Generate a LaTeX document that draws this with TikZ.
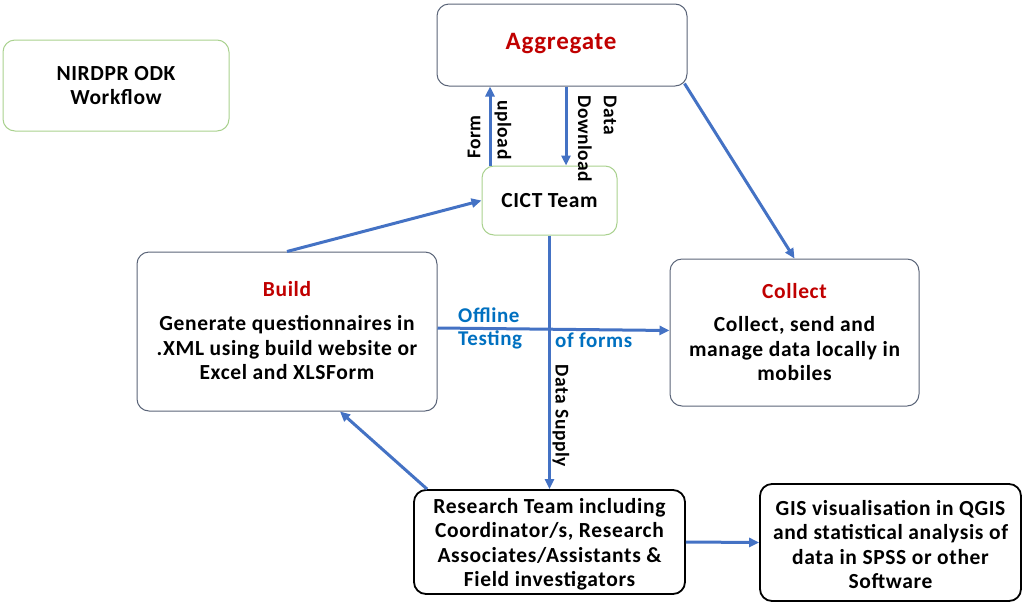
\documentclass[tikz,border=0pt]{standalone}
\usepackage{fontspec}
\setmainfont{Carlito}[LetterSpace=3]
\usetikzlibrary{arrows.meta}
\definecolor{flowblue}{HTML}{4472C4}
\definecolor{headred}{HTML}{C00000}
\definecolor{labelblue}{HTML}{0070C0}
\definecolor{softgreen}{HTML}{A9D18E}
\definecolor{slateedge}{HTML}{5A6478}
\begin{document}
\begin{tikzpicture}[x=1pt,y=-1pt,
  every node/.style={font=\bfseries\fontsize{21.5}{24.5}\selectfont, inner sep=0pt, align=center},
  box/.style={draw, rounded corners=12pt, line width=1pt},
  greenbox/.style={box, draw=softgreen},
  slatebox/.style={box, draw=slateedge},
  blackbox/.style={box, draw=black, line width=1.8pt},
  arr/.style={draw=flowblue, line width=3pt, -{Triangle[length=10pt,width=9pt]}},
  flowlabel/.style={font=\bfseries\fontsize{19.5}{23}\selectfont},
  bluelabel/.style={font=\bfseries\fontsize{21}{24}\selectfont, text=labelblue},
  head/.style={text=headred}]
\useasboundingbox (0,0) rectangle (1028,603);

% boxes
\node[greenbox, minimum width=226pt, minimum height=91pt] (title) at (116,85.5) {NIRDPR ODK\\Workflow};
\node[slatebox, minimum width=250pt, minimum height=82pt] (agg) at (562,45) {};
\node[head, font=\bfseries\fontsize{25}{30}\selectfont] (aggt) at (561,44) {Aggregate};
\node[greenbox, minimum width=135pt, minimum height=69pt] (cict) at (549.5,200.5) {CICT Team};
\node[slatebox, minimum width=300pt, minimum height=159pt] (build) at (287,331.5) {};
\node (buildt) at (287,331) {\textcolor{headred}{Build}\\[9.5pt]Generate questionnaires in\\.XML using build website or\\Excel and XLSForm};
\node[slatebox, minimum width=249pt, minimum height=147pt] (collect) at (794.5,332.5) {};
\node (collectt) at (794.5,332.5) {\textcolor{headred}{Collect}\\[8.5pt]Collect, send and\\manage data locally in\\mobiles};
\node[blackbox, minimum width=271pt, minimum height=104pt] (research) at (549.5,542) {};
\node (researcht) at (549.5,544.5) {Research Team including\\Coordinator/s, Research\\Associates/Assistants \&\\Field investigators};
\node[blackbox, minimum width=261pt, minimum height=117pt] (gis) at (890.5,542.5) {};
\node (gist) at (890.5,544.5) {GIS visualisation in QGIS\\and statistical analysis of\\data in SPSS or other\\Software};

% connectors
\coordinate (fu) at ([xshift=-59.5pt]cict.north);
\coordinate (dd) at ([xshift=16.5pt]cict.north);
\draw[arr] (fu) -- (fu |- agg.south);
\draw[arr] (dd |- agg.south) -- (dd);
\draw[arr] ([xshift=-3pt,yshift=3pt]agg.south east) -- (collect.north);
\draw[arr] (build.north) -- (cict.west);
\draw[arr] ([yshift=3.5pt]build.east) -- ([yshift=2pt]collect.west);
\draw[arr] (cict.south) -- (research.north);
\draw[arr] ([xshift=14pt]research.north west) -- ([xshift=53pt]build.south);
\draw[arr] (research.east) -- (gis.west);

% connector labels
\node[flowlabel, rotate=90] (lform) at (474,137) {Form};
\node[flowlabel, rotate=-90] (lupload) at (503,130) {upload};
\node[flowlabel, rotate=-90, anchor=west] (ldata) at (610,95) {Data};
\node[flowlabel, rotate=-90, anchor=west] (ldown) at (585,95) {Download};
\node[bluelabel, anchor=west] (loff) at (458,315) {Offline};
\node[bluelabel, anchor=west] (ltest) at (458,340) {Testing};
\node[bluelabel, anchor=west] (lforms) at (555,340) {of forms};
\node[flowlabel, rotate=-90] (lsupply) at (561,416) {Data Supply};
\end{tikzpicture}
\end{document}
